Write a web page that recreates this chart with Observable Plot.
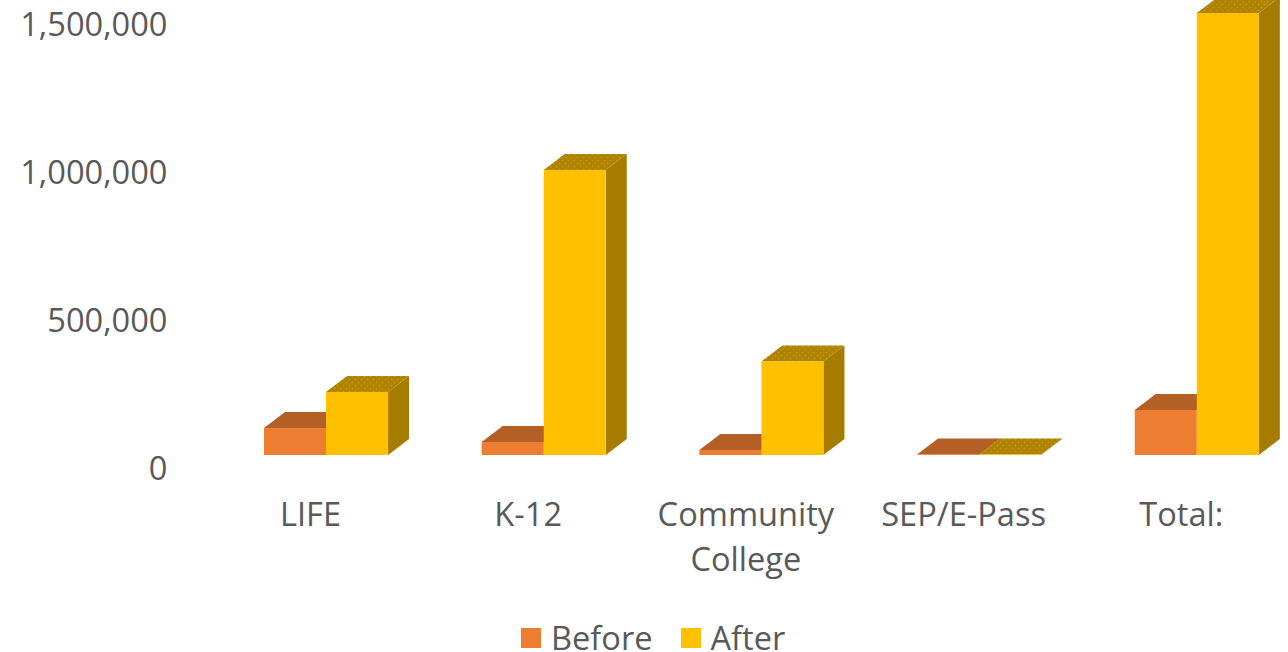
<!DOCTYPE html>
<html>
<head>
<meta charset="utf-8">
<script src="https://cdn.jsdelivr.net/npm/d3@7"></script>
<script src="https://cdn.jsdelivr.net/npm/@observablehq/plot@0.6"></script>
<style>
  html, body { margin: 0; padding: 0; background: #fff; overflow: hidden; }
  #chart svg { display: block; }
  #legend {
    display: flex; align-items: center; position: absolute; left: 521px; top: 622px; height: 30px;
    font: 32.6px/30px "Open Sans", sans-serif; color: #595959;
  }
  #legend i { display: block; width: 20px; height: 20px; margin: 2px 10px 0 0; }
  #legend span { margin-right: 28px; position: relative; top: 1px; }
  #legend span:last-child { margin-right: 0; }
</style>
</head>
<body>
<div id="chart"></div>
<div id="legend"></div>
<script>
const categories = ["LIFE", "K-12", "Community\nCollege", "SEP/E-Pass", "Total:"];
const before = [91000, 44000, 17000, 2000, 152000];
const after = [213000, 963000, 316000, 2000, 1493000];
const yTicks = [0, 500000, 1000000, 1500000];

const colors = {
  Before: {front: "#ED7D31", side: "#B15F27", top: "#B45F26"},
  After: {front: "#FFC000", side: "#A67C00", top: "url(#gold-top)"}
};

// Extruded box geometry, in scale units
const barWidth = 0.285;
const depthX = 0.0966;
const depthY = 54000;

function boxes(series, values, x0) {
  return values.map((v, i) => ({series, i, left: i + x0, right: i + x0 + barWidth, v}));
}
const rows = {Before: boxes("Before", before, -barWidth), After: boxes("After", after, 0)};

// Right-hand face: a band rising with depth
const sideFace = (d) => [
  {k: d.i, x: d.right, y1: 0, y2: d.v},
  {k: d.i, x: d.right + depthX, y1: depthY, y2: d.v + depthY}
];
// Top face: a sheared parallelogram
const topFace = (d) => [
  {k: d.i, x: d.left, y1: d.v, y2: d.v},
  {k: d.i, x: d.left + depthX, y1: d.v, y2: d.v + depthY},
  {k: d.i, x: d.right, y1: d.v, y2: d.v + depthY},
  {k: d.i, x: d.right + depthX, y1: d.v + depthY, y2: d.v + depthY}
];

function boxMarks(name) {
  const data = rows[name], c = colors[name];
  return [
    Plot.area(data.flatMap(sideFace), {x1: "x", y1: "y1", y2: "y2", z: "k", fill: c.side}),
    Plot.area(data.flatMap(topFace), {x1: "x", y1: "y1", y2: "y2", z: "k", fill: c.top}),
    Plot.rect(data, {x1: "left", x2: "right", y1: 0, y2: "v", fill: c.front})
  ];
}

// Stippled gold used on the top faces of the After boxes
function goldPattern() {
  const defs = d3.create("svg:defs");
  const p = defs.append("pattern").attr("id", "gold-top").attr("patternUnits", "userSpaceOnUse")
    .attr("width", 6).attr("height", 6);
  p.append("rect").attr("width", 6).attr("height", 6).attr("fill", "#AD8200");
  p.append("circle").attr("cx", 1.5).attr("cy", 1.5).attr("r", 0.9).attr("fill", "#CB9A00");
  p.append("circle").attr("cx", 4.5).attr("cy", 4.5).attr("r", 0.9).attr("fill", "#CB9A00");
  return defs.node();
}

const chart = Plot.plot({
  width: 1288,
  height: 620,
  marginLeft: 167,
  marginRight: 0,
  marginTop: 0,
  marginBottom: 165,
  style: {background: "#fff", color: "#595959", fontFamily: "'Open Sans', sans-serif", overflow: "visible"},
  x: {domain: [-0.7304, 4.419], axis: null},
  y: {domain: [0, 1537000], axis: null},
  marks: [
    goldPattern,
    Plot.axisY({
      ticks: yTicks, tickFormat: d3.format(","), tickSize: 0, tickPadding: 0,
      fontSize: 32.6, dy: 14, label: null
    }),
    Plot.axisX({
      ticks: d3.range(categories.length), tickFormat: (i) => categories[i], tickSize: 0, tickPadding: 39,
      fontSize: 32.6, dx: -16, lineHeight: 1.38, label: null
    }),
    ...boxMarks("Before"),
    ...boxMarks("After")
  ]
});
document.getElementById("chart").append(chart);

// Legend row under the plot
const legend = d3.select("#legend");
for (const name of ["Before", "After"]) {
  legend.append("i").style("background", colors[name].front);
  legend.append("span").text(name);
}
</script>
</body>
</html>
